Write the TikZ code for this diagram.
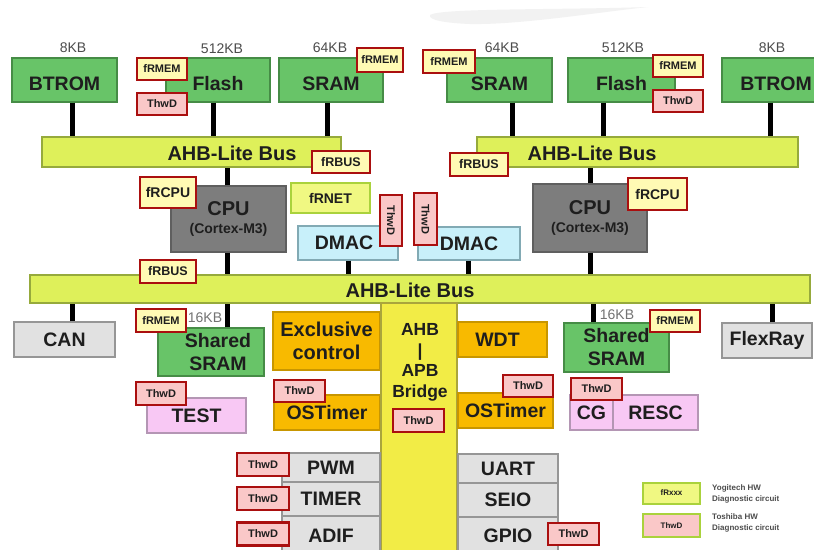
\documentclass[tikz,border=0pt]{standalone}
\usepackage{fontspec}
\setmainfont{Liberation Sans}
\newcommand\fsz[2]{\fontsize{#1}{#2}\selectfont}
\definecolor{textdark}{RGB}{30,30,30}
\definecolor{memfill}{RGB}{104,196,104}
\definecolor{memedge}{RGB}{70,140,70}
\definecolor{busfill}{RGB}{222,240,90}
\definecolor{busedge}{RGB}{150,170,60}
\definecolor{tagred}{RGB}{170,15,15}
\definecolor{tagfill}{RGB}{255,250,180}
\definecolor{thwfill}{RGB}{250,200,200}
\definecolor{netfill}{RGB}{240,248,130}
\definecolor{netedge}{RGB}{170,210,60}
\definecolor{cpufill}{RGB}{125,125,125}
\definecolor{cpuedge}{RGB}{95,95,95}
\definecolor{dmacfill}{RGB}{200,240,250}
\definecolor{dmacedge}{RGB}{130,170,180}
\definecolor{perifill}{RGB}{225,225,225}
\definecolor{periedge}{RGB}{150,150,150}
\definecolor{orfill}{RGB}{248,186,0}
\definecolor{oredge}{RGB}{200,150,0}
\definecolor{brfill}{RGB}{242,236,70}
\definecolor{bredge}{RGB}{170,165,60}
\definecolor{pkfill}{RGB}{248,200,244}
\definecolor{pkedge}{RGB}{180,150,180}

\begin{document}
\begin{tikzpicture}[x=1pt,y=-1pt,
  box/.style={draw,line width=1.2,inner sep=0,align=center,font=\fsz{19.5}{23}\bfseries,text=textdark},
  membox/.style={box,fill=memfill,draw=memedge},
  topmem/.style={membox,minimum height=44,text height=22},
  busbar/.style={box,fill=busfill,draw=busedge},
  bustext/.style={font=\fsz{20}{20}\bfseries,text=textdark,inner sep=0},
  cpubox/.style={box,fill=cpufill,draw=cpuedge,font=\fsz{20}{18}\bfseries},
  dmacbox/.style={box,fill=dmacfill,draw=dmacedge},
  netbox/.style={box,fill=netfill,draw=netedge,line width=2,font=\fsz{14}{14}\bfseries},
  peribox/.style={box,fill=perifill,draw=periedge},
  orbox/.style={box,fill=orfill,draw=oredge},
  pkbox/.style={box,fill=pkfill,draw=pkedge},
  tagfr/.style={draw=tagred,line width=2.5,fill=tagfill,inner sep=0,font=\fsz{11}{11}\bfseries,text=textdark},
  tagthw/.style={tagfr,fill=thwfill},
  sizelabel/.style={font=\fsz{14}{14},text=black!70,inner sep=0},
  busline/.style={line width=5,black},
  legbox/.style={draw=netedge,line width=2,inner sep=0,font=\fsz{8}{8}\bfseries,text=textdark,
    minimum width=57,minimum height=21},
  legtext/.style={anchor=west,align=left,inner sep=0,font=\fsz{8}{11}\bfseries,text=black!70}
]
\clip (0,0) rectangle (814,549);
\fill[white] (0,0) rectangle (814,549);
\fill[gray!10] (430,15) .. controls (440,8) and (560,10) .. (648,7)
  .. controls (600,12) and (520,25) .. (470,24) .. controls (445,23) and (428,20) .. (430,15);

% top memories
\node[topmem,minimum width=105] (btromL) at (64.5,80) {BTROM};
\node[topmem,minimum width=104] (flashL) at (218,80) {Flash};
\node[topmem,minimum width=104] (sramL) at (331,80) {SRAM};
\node[topmem,minimum width=105] (sramR) at (499.5,80) {SRAM};
\node[topmem,minimum width=107] (flashR) at (621.5,80) {Flash};
\node[topmem,minimum width=108] (btromR) at (776,80) {BTROM};
\node[sizelabel] (kbA) at (73,48) {8KB};
\node[sizelabel] (kbB) at (222,49) {512KB};
\node[sizelabel] (kbC) at (330,48) {64KB};
\node[sizelabel] (kbD) at (502,48) {64KB};
\node[sizelabel] (kbE) at (623,48) {512KB};
\node[sizelabel] (kbF) at (772,48) {8KB};
\node[tagfr,minimum width=50,minimum height=22] (frmemA) at (162,69) {fRMEM};
\node[tagthw,minimum width=50,minimum height=22] (thwA) at (162,104) {ThwD};
\node[tagfr,minimum width=46,minimum height=24] (frmemB) at (380,60) {fRMEM};
\node[tagfr,minimum width=52,minimum height=23] (frmemC) at (449,61.5) {fRMEM};
\node[tagfr,minimum width=50,minimum height=22] (frmemD) at (678,66) {fRMEM};
\node[tagthw,minimum width=50,minimum height=22] (thwB) at (678,101) {ThwD};

% upper buses
\node[busbar,minimum width=299,minimum height=30] (busTL) at (191.5,152) {};
\node[bustext] (busTLtext) at (232,153) {AHB-Lite Bus};
\node[busbar,minimum width=321,minimum height=30] (busTR) at (637.5,152) {};
\node[bustext] (busTRtext) at (592,153) {AHB-Lite Bus};
\draw[busline] ([xshift=7.5]btromL.south) -- ([xshift=7.5]btromL.south |- busTL.north);
\draw[busline] ([xshift=-5]flashL.south) -- ([xshift=-5]flashL.south |- busTL.north);
\draw[busline] ([xshift=-4]sramL.south) -- ([xshift=-4]sramL.south |- busTL.north);
\draw[busline] ([xshift=12.5]sramR.south) -- ([xshift=12.5]sramR.south |- busTR.north);
\draw[busline] ([xshift=-18.5]flashR.south) -- ([xshift=-18.5]flashR.south |- busTR.north);
\draw[busline] ([xshift=-6]btromR.south) -- ([xshift=-6]btromR.south |- busTR.north);
\node[tagfr,minimum width=58,minimum height=22,font=\fsz{12.5}{12.5}\bfseries] (frbusA) at (341,162) {fRBUS};
\node[tagfr,minimum width=58,minimum height=23,font=\fsz{12.5}{12.5}\bfseries] (frbusB) at (479,164.5) {fRBUS};

% cpus and dmacs
\node[cpubox,minimum width=115,minimum height=66] (cpuL) at (228.5,219) {CPU\\{\fsz{14}{18}(Cortex-M3)}};
\node[cpubox,minimum width=114,minimum height=68] (cpuR) at (590,218) {CPU\\{\fsz{14}{18}(Cortex-M3)}};
\node[tagfr,minimum width=56,minimum height=31,font=\fsz{14}{14}\bfseries] (frcpuA) at (168,192.5) {fRCPU};
\node[tagfr,minimum width=59,minimum height=32,font=\fsz{14}{14}\bfseries] (frcpuB) at (657.5,194) {fRCPU};
\node[netbox,minimum width=79,minimum height=30] (frnet) at (330.5,198) {fRNET};
\node[dmacbox,minimum width=100,minimum height=34] (dmacL) at (348,243) {DMAC\hspace*{8pt}};
\node[dmacbox,minimum width=102,minimum height=33] (dmacR) at (469,243.5) {DMAC};
\node[tagthw,rotate=-90,minimum width=51,minimum height=22] (thwC) at (391,220.5) {ThwD};
\node[tagthw,rotate=-90,minimum width=52,minimum height=23] (thwD) at (425.5,219) {ThwD};
\draw[busline] ([xshift=-1.5]cpuL.north) -- ([xshift=-1.5]cpuL.north |- busTL.south);
\draw[busline] (cpuR.north) -- (cpuR.north |- busTR.south);

% main bus
\node[busbar,minimum width=780,minimum height=28] (busMain) at (420,289) {};
\node[bustext] (busMaintext) at (410,290) {AHB-Lite Bus};
\draw[busline] ([xshift=-1.5]cpuL.south) -- ([xshift=-1.5]cpuL.south |- busMain.north);
\draw[busline] (dmacL.south) -- (dmacL.south |- busMain.north);
\draw[busline] ([xshift=-1]dmacR.south) -- ([xshift=-1]dmacR.south |- busMain.north);
\draw[busline] (cpuR.south) -- (cpuR.south |- busMain.north);
\node[tagfr,minimum width=56,minimum height=23,font=\fsz{12.5}{12.5}\bfseries] (frbusC) at (168,271.5) {fRBUS};

% lower left
\node[peribox,minimum width=101,minimum height=35] (can) at (64.5,339.5) {CAN};
\node[membox,minimum width=106,minimum height=48] (sharedL) at (211,352) {\hspace*{14pt}Shared\\\hspace*{14pt}SRAM};
\node[sizelabel,text=black!55] (kbG) at (205,318) {16KB};
\node[tagfr,minimum width=50,minimum height=23] (frmemE) at (161,320.5) {fRMEM};
\node[pkbox,minimum width=99,minimum height=35] (test) at (196.5,415.5) {TEST};
\node[tagthw,minimum width=50,minimum height=23] (thwE) at (161,393.5) {ThwD};
\node[orbox,minimum width=107,minimum height=58,font=\fsz{20}{23}\bfseries] (excl) at (326.5,341) {Exclusive\\control};
\node[orbox,minimum width=106,minimum height=35] (ostL) at (327,412.5) {OSTimer};
\node[tagthw,minimum width=51,minimum height=22] (thwF) at (299.5,391) {ThwD};
\draw[busline] ([xshift=7.5]can.north) -- ([xshift=7.5]can.north |- busMain.south);
\draw[busline] ([xshift=16]sharedL.north) -- ([xshift=16]sharedL.north |- busMain.south);

% bridge and right side
\node[box,fill=brfill,draw=bredge,minimum width=76,minimum height=257] (bridge) at (419,431.5) {};
\node[anchor=north,align=center,inner sep=0,font=\fsz{17.5}{20.5}\bfseries,text=textdark] (bridgetext) at (420,323.75) {AHB\\|\\APB\\Bridge};
\node[tagthw,minimum width=51,minimum height=23] (thwG) at (418.5,420.5) {ThwD};
\node[orbox,minimum width=89,minimum height=35] (wdt) at (502.5,339.5) {WDT\hspace*{10pt}};
\node[orbox,minimum width=95,minimum height=35] (ostR) at (505.5,410.5) {OSTimer};
\node[tagthw,minimum width=50,minimum height=22] (thwH) at (528,386) {ThwD};
\node[membox,minimum width=105,minimum height=49] (sharedR) at (616.5,347.5) {Shared\\SRAM};
\node[sizelabel,text=black!55] (kbH) at (617,315) {16KB};
\node[tagfr,minimum width=50,minimum height=22] (frmemF) at (675,321) {fRMEM};
\node[pkbox,minimum width=43,minimum height=35] (cg) at (591.5,412.5) {CG};
\node[pkbox,minimum width=85,minimum height=35] (resc) at (655.5,412.5) {RESC};
\node[tagthw,minimum width=51,minimum height=22] (thwI) at (596.5,389) {ThwD};
\node[peribox,minimum width=90,minimum height=35] (flexray) at (767,340.5) {FlexRay};
\draw[busline] ([xshift=-23.5]sharedR.north) -- ([xshift=-23.5]sharedR.north |- busMain.south);
\draw[busline] ([xshift=5]flexray.north) -- ([xshift=5]flexray.north |- busMain.south);

% apb peripherals
\node[peribox,minimum width=98,minimum height=29] (pwm) at (331,467.5) {PWM};
\node[peribox,minimum width=98,minimum height=34] (timer) at (331,499) {TIMER};
\node[peribox,minimum width=98,minimum height=39] (adif) at (331,535.5) {ADIF};
\node[peribox,minimum width=100,minimum height=29] (uart) at (508,468.5) {UART};
\node[peribox,minimum width=100,minimum height=34] (seio) at (508,500) {SEIO};
\node[peribox,minimum width=100,minimum height=38] (gpio) at (508,536) {GPIO};
\node[tagthw,minimum width=52,minimum height=23] (thwJ) at (263,464.5) {ThwD};
\node[tagthw,minimum width=52,minimum height=23] (thwK) at (263,498.5) {ThwD};
\node[tagthw,minimum width=52,minimum height=23] (thwL) at (263,534) {ThwD};
\node[tagthw,minimum width=51,minimum height=22] (thwM) at (573.5,534) {ThwD};

% legend
\node[legbox,fill=netfill] (legfr) at (671.5,493) {fRxxx};
\node[legbox,fill=thwfill,minimum height=23] (legthw) at (671.5,525.5) {ThwD};
\node[legtext] (legfrtext) at (712,494) {Yogitech HW\\Diagnostic circuit};
\node[legtext] (legthwtext) at (712,523) {Toshiba HW\\Diagnostic circuit};
\end{tikzpicture}
\end{document}
